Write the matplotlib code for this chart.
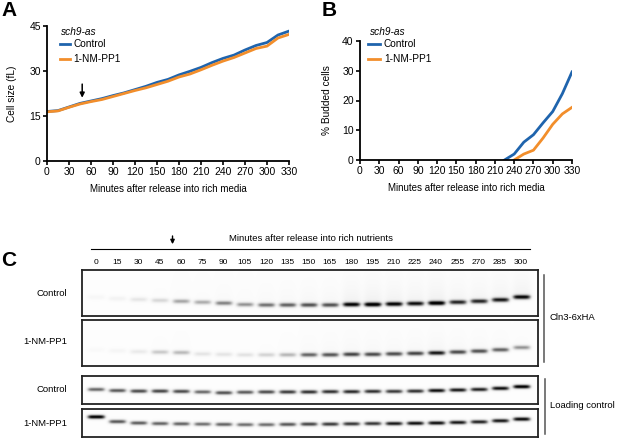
import numpy as np
import matplotlib
matplotlib.use("Agg")
import matplotlib.pyplot as plt
import matplotlib.transforms as mtransforms

plt.rcParams['font.family'] = ['Liberation Sans', 'DejaVu Sans']

# ---- panel A / B data (minutes after release) ----
minutes = list(range(0, 331, 15))
size_control = [16.5, 16.8, 18.0, 19.2, 20.0, 20.8, 21.8, 22.7, 23.8, 24.9, 26.2, 27.2,
                28.7, 29.9, 31.2, 32.8, 34.2, 35.3, 37.0, 38.5, 39.5, 42.0, 43.3]
size_nmpp1 = [16.4, 16.7, 17.9, 19.0, 19.8, 20.5, 21.5, 22.5, 23.5, 24.4, 25.5, 26.6,
              28.0, 29.0, 30.4, 31.9, 33.3, 34.5, 36.0, 37.5, 38.3, 41.0, 42.2]

bud_minutes = [225, 240, 255, 270, 285, 300, 315, 330]
bud_control = [0, 2.0, 6.0, 8.5, 12.5, 16.3, 22.3, 29.6]
bud_minutes2 = [240, 255, 270, 285, 300, 315, 330]
bud_nmpp1 = [0, 2.0, 3.3, 7.4, 12.0, 15.5, 17.7]

arrow_min = 48

# ---- panel C data (band intensities per lane, 0..1) ----
lanes = [0, 15, 30, 45, 60, 75, 90, 105, 120, 135, 150, 165, 180, 195, 210, 225, 240, 255, 270, 285, 300]
cln3_control = [0.05, 0.08, 0.15, 0.22, 0.4, 0.38, 0.5, 0.45, 0.55, 0.6, 0.65, 0.65,
                0.9, 0.95, 0.9, 0.85, 0.95, 0.78, 0.78, 0.82, 0.88]
cln3_nmpp1 = [0.03, 0.06, 0.13, 0.28, 0.34, 0.16, 0.16, 0.17, 0.24, 0.35, 0.6, 0.65,
              0.7, 0.68, 0.68, 0.7, 0.82, 0.68, 0.66, 0.6, 0.45]
load_control = [0.6, 0.65, 0.7, 0.72, 0.7, 0.6, 0.68, 0.65, 0.7, 0.75, 0.78, 0.78,
                0.8, 0.78, 0.75, 0.78, 0.88, 0.85, 0.82, 0.88, 0.95]
load_nmpp1 = [0.95, 0.66, 0.64, 0.62, 0.62, 0.58, 0.62, 0.58, 0.58, 0.66, 0.72, 0.75,
              0.76, 0.76, 0.85, 0.88, 0.88, 0.85, 0.82, 0.85, 0.9]

# band height inside each box (fraction from bottom)
row_cln3_control = [0.40, 0.37, 0.35, 0.33, 0.31, 0.29, 0.27, 0.24, 0.23, 0.23, 0.23, 0.23,
                    0.24, 0.24, 0.25, 0.26, 0.27, 0.29, 0.31, 0.34, 0.40]
row_cln3_nmpp1 = [0.35, 0.33, 0.31, 0.30, 0.29, 0.26, 0.25, 0.24, 0.24, 0.24, 0.24, 0.24,
                  0.25, 0.25, 0.26, 0.27, 0.28, 0.30, 0.32, 0.35, 0.40]
row_load_control = [0.52, 0.48, 0.46, 0.46, 0.45, 0.43, 0.40, 0.42, 0.43, 0.43, 0.43, 0.44,
                    0.44, 0.45, 0.45, 0.46, 0.48, 0.50, 0.52, 0.56, 0.62]
row_load_nmpp1 = [0.72, 0.55, 0.50, 0.48, 0.47, 0.46, 0.45, 0.44, 0.44, 0.45, 0.46, 0.46,
                  0.47, 0.48, 0.48, 0.49, 0.50, 0.52, 0.54, 0.58, 0.64]

blue = '#1f64ad'
orange = '#f28e2b'

fig = plt.figure(figsize=(6.17, 4.38), dpi=100)
W, H = 617.0, 438.0


def px_axes(l, t, r, b):
    return fig.add_axes([l / W, 1 - b / H, (r - l) / W, (b - t) / H])


def style_axes(ax):
    for s in ['top', 'right']:
        ax.spines[s].set_visible(False)
    for s in ['left', 'bottom']:
        ax.spines[s].set_linewidth(1.3)
    ax.tick_params(direction='out', length=3, width=1.2, labelsize=7.5, pad=1.5)


# ---- A ----
axA = px_axes(47, 26, 289, 161)
axA.plot(minutes, size_control, color=blue, lw=2)
axA.plot(minutes, size_nmpp1, color=orange, lw=2)
axA.set_xlim(0, 330)
axA.set_ylim(0, 45)
axA.set_xticks(range(0, 331, 30))
axA.set_yticks([0, 15, 30, 45])
style_axes(axA)
axA.set_xlabel('Minutes after release into rich media', fontsize=7, labelpad=5)
axA.set_ylabel('Cell size (fL)', fontsize=7.3, labelpad=9)
y_arrow = np.interp(arrow_min, minutes, size_control)
axA.annotate('', xy=(arrow_min, y_arrow + 0.8), xytext=(arrow_min, y_arrow + 7.2),
             arrowprops=dict(arrowstyle='-|>', color='black', lw=1.1, mutation_scale=7))
axA.text(19, 43, 'sch9-as', style='italic', fontsize=7.3, va='center')
axA.plot([18, 32], [39, 39], color=blue, lw=2)
axA.text(36, 39, 'Control', fontsize=7.3, va='center')
axA.plot([18, 32], [34, 34], color=orange, lw=2)
axA.text(36, 34, '1-NM-PP1', fontsize=7.3, va='center')

# ---- B ----
axB = px_axes(360, 41, 572, 160)
axB.plot(bud_minutes, bud_control, color=blue, lw=2)
axB.plot(bud_minutes2, bud_nmpp1, color=orange, lw=2)
axB.set_xlim(0, 330)
axB.set_ylim(0, 40)
axB.set_xticks(range(0, 331, 30))
axB.set_yticks([0, 10, 20, 30, 40])
style_axes(axB)
axB.set_xlabel('Minutes after release into rich media', fontsize=7, labelpad=5)
axB.set_ylabel('% Budded cells', fontsize=7.3, labelpad=7)
axB.text(16, 43, 'sch9-as', style='italic', fontsize=7.3, va='center', clip_on=False)
axB.plot([13, 31], [39, 39], color=blue, lw=2, clip_on=False)
axB.text(37, 39, 'Control', fontsize=7.3, va='center')
axB.plot([13, 31], [34, 34], color=orange, lw=2, clip_on=False)
axB.text(37, 34, '1-NM-PP1', fontsize=7.3, va='center')

# ---- C (blots) ----
x0, x1 = -0.66, 20.8


def blot(ax, levels, rows, thick, smear=0.0):
    xs = np.linspace(x0, x1, 1000)
    ys = np.linspace(0, 1, 140)
    X, Y = np.meshgrid(xs, ys)
    img = np.full(X.shape, 0.015)
    for k, (lv, r) in enumerate(zip(levels, rows)):
        gx = np.exp(-np.abs((X - k) / 0.42) ** 5)
        gy = np.exp(-((Y - r) / thick) ** 2)
        img += lv * gx * gy
        if smear:
            img += smear * lv ** 2 * np.exp(-np.abs((X - k) / 0.46) ** 4) * \
                np.exp(-np.clip(Y - r, 0, None) / 0.35) * (Y > r)
    img = np.clip(img, 0, 1)
    ax.imshow(img, extent=(x0, x1, 0, 1), origin='lower', aspect='auto',
              cmap='Greys', vmin=0, vmax=0.92, interpolation='bilinear')
    ax.set_xlim(x0, x1)
    ax.set_ylim(0, 1)
    ax.set_xticks([])
    ax.set_yticks([])
    for s in ax.spines.values():
        s.set_linewidth(1.3)
        s.set_color('#222222')


ax1 = px_axes(82, 270, 538, 316)
blot(ax1, cln3_control, row_cln3_control, 0.05, smear=0.13)
ax2 = px_axes(82, 320, 538, 366)
blot(ax2, cln3_nmpp1, row_cln3_nmpp1, 0.05, smear=0.1)
ax3 = px_axes(82, 376, 538, 404)
blot(ax3, load_control, row_load_control, 0.075)
ax4 = px_axes(82, 409, 538, 437)
blot(ax4, load_nmpp1, row_load_nmpp1, 0.075)

trans = mtransforms.blended_transform_factory(ax1.transData, ax1.transAxes)
for k, lab in enumerate(lanes):
    ax1.text(k, 1.17, str(lab), transform=trans, ha='center', va='center', fontsize=6)
ax1.plot([-0.24, 20.4], [1.45, 1.45], transform=trans, color='black', lw=0.8, clip_on=False)
ax1.text(10.1, 1.68, 'Minutes after release into rich nutrients', transform=trans,
         ha='center', va='center', fontsize=6.8)
arrow_lane = arrow_min / 15.0 + 0.4
ax1.annotate('', xy=(arrow_lane, 1.5), xytext=(arrow_lane, 1.8), xycoords=trans,
             textcoords=trans,
             arrowprops=dict(arrowstyle='-|>', color='black', lw=1.0, mutation_scale=6))

fig.text(67 / W, 1 - 293 / H, 'Control', ha='right', va='center', fontsize=6.8)
fig.text(67 / W, 1 - 342 / H, '1-NM-PP1', ha='right', va='center', fontsize=6.8)
fig.text(67 / W, 1 - 390 / H, 'Control', ha='right', va='center', fontsize=6.8)
fig.text(67 / W, 1 - 423 / H, '1-NM-PP1', ha='right', va='center', fontsize=6.8)

fig.add_artist(plt.Line2D([544 / W, 544 / W], [1 - 275 / H, 1 - 362 / H], color='#555555', lw=1.1))
fig.add_artist(plt.Line2D([545 / W, 545 / W], [1 - 379 / H, 1 - 434 / H], color='#555555', lw=1.1))
fig.text(550 / W, 1 - 317 / H, 'Cln3-6xHA', ha='left', va='center', fontsize=6.8)
fig.text(550 / W, 1 - 406 / H, 'Loading control', ha='left', va='center', fontsize=6.8)

fig.text(1 / W, 1 - 1 / H, 'A', ha='left', va='top', fontsize=15, weight='bold')
fig.text(322 / W, 1 - 1 / H, 'B', ha='left', va='top', fontsize=15, weight='bold')
fig.text(1 / W, 1 - 260 / H, 'C', ha='left', va='center', fontsize=15, weight='bold')

fig.savefig('out.png', dpi=100)
